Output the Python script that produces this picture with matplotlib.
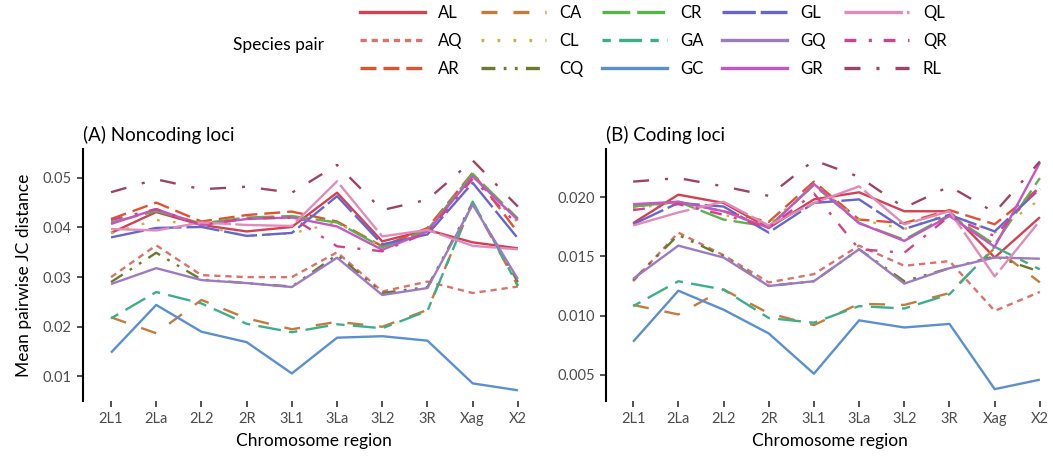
import numpy as np
import matplotlib
matplotlib.use("Agg")
import matplotlib.pyplot as plt
from matplotlib.lines import Line2D

plt.rcParams['font.family'] = ['Lato', 'DejaVu Sans']
plt.rcParams['lines.scale_dashes'] = False

regions = ["2L1", "2La", "2L2", "2R", "3L1", "3La", "3L2", "3R", "Xag", "X2"]
pairs = ["AL", "AQ", "AR", "CA", "CL", "CQ", "CR", "GA", "GC", "GL", "GQ", "GR", "QL", "QR", "RL"]

# noncoding loci
nc_AL = [0.0389, 0.0431, 0.0405, 0.0392, 0.0401, 0.0470, 0.0372, 0.0395, 0.0370, 0.0358]
nc_AQ = [0.0300, 0.0364, 0.0304, 0.0300, 0.0300, 0.0350, 0.0271, 0.0291, 0.0268, 0.0281]
nc_AR = [0.0417, 0.0450, 0.0412, 0.0425, 0.0432, 0.0412, 0.0362, 0.0399, 0.0510, 0.0390]
nc_CA = [0.0219, 0.0187, 0.0254, 0.0217, 0.0195, 0.0210, 0.0200, 0.0234, 0.0450, 0.0282]
nc_CL = [0.0388, 0.0415, 0.0404, 0.0383, 0.0388, 0.0410, 0.0360, 0.0392, 0.0505, 0.0410]
nc_CQ = [0.0290, 0.0349, 0.0295, 0.0288, 0.0281, 0.0345, 0.0268, 0.0280, 0.0450, 0.0290]
nc_CR = [0.0410, 0.0433, 0.0408, 0.0420, 0.0423, 0.0410, 0.0360, 0.0395, 0.0508, 0.0418]
nc_GA = [0.0217, 0.0270, 0.0247, 0.0206, 0.0189, 0.0205, 0.0197, 0.0232, 0.0452, 0.0283]
nc_GC = [0.0148, 0.0244, 0.0190, 0.0169, 0.0106, 0.0178, 0.0181, 0.0172, 0.0086, 0.0072]
nc_GL = [0.0380, 0.0399, 0.0401, 0.0383, 0.0389, 0.0463, 0.0366, 0.0386, 0.0490, 0.0378]
nc_GQ = [0.0286, 0.0318, 0.0294, 0.0288, 0.0280, 0.0339, 0.0264, 0.0278, 0.0446, 0.0296]
nc_GR = [0.0407, 0.0437, 0.0405, 0.0417, 0.0420, 0.0402, 0.0355, 0.0392, 0.0503, 0.0415]
nc_QL = [0.0397, 0.0394, 0.0410, 0.0405, 0.0403, 0.0493, 0.0382, 0.0395, 0.0363, 0.0356]
nc_QR = [0.0415, 0.0437, 0.0405, 0.0418, 0.0420, 0.0362, 0.0352, 0.0390, 0.0498, 0.0405]
nc_RL = [0.0471, 0.0497, 0.0477, 0.0482, 0.0470, 0.0526, 0.0435, 0.0456, 0.0535, 0.0442]

# coding loci
cd_AL = [0.0178, 0.0202, 0.0195, 0.0174, 0.0198, 0.0204, 0.0188, 0.0188, 0.0149, 0.0183]
cd_AQ = [0.0129, 0.0170, 0.0151, 0.0128, 0.0135, 0.0159, 0.0142, 0.0146, 0.0104, 0.0120]
cd_AR = [0.0192, 0.0196, 0.0188, 0.0179, 0.0213, 0.0181, 0.0178, 0.0189, 0.0177, 0.0208]
cd_CA = [0.0109, 0.0101, 0.0122, 0.0102, 0.0092, 0.0110, 0.0109, 0.0119, 0.0157, 0.0128]
cd_CL = [0.0190, 0.0196, 0.0185, 0.0177, 0.0211, 0.0181, 0.0173, 0.0186, 0.0170, 0.0198]
cd_CQ = [0.0130, 0.0168, 0.0150, 0.0125, 0.0129, 0.0156, 0.0129, 0.0140, 0.0150, 0.0137]
cd_CR = [0.0192, 0.0196, 0.0181, 0.0175, 0.0210, 0.0178, 0.0164, 0.0185, 0.0160, 0.0216]
cd_GA = [0.0108, 0.0129, 0.0122, 0.0098, 0.0094, 0.0108, 0.0106, 0.0118, 0.0158, 0.0139]
cd_GC = [0.0078, 0.0121, 0.0105, 0.0085, 0.0051, 0.0096, 0.0090, 0.0093, 0.0038, 0.0046]
cd_GL = [0.0177, 0.0195, 0.0192, 0.0170, 0.0195, 0.0198, 0.0173, 0.0185, 0.0171, 0.0207]
cd_GQ = [0.0131, 0.0159, 0.0149, 0.0125, 0.0129, 0.0156, 0.0127, 0.0140, 0.0149, 0.0148]
cd_GR = [0.0194, 0.0196, 0.0188, 0.0174, 0.0211, 0.0178, 0.0163, 0.0184, 0.0158, 0.0229]
cd_QL = [0.0176, 0.0187, 0.0196, 0.0176, 0.0195, 0.0209, 0.0177, 0.0188, 0.0133, 0.0180]
cd_QR = [0.0189, 0.0194, 0.0185, 0.0174, 0.0203, 0.0156, 0.0153, 0.0184, 0.0167, 0.0209]
cd_RL = [0.0213, 0.0216, 0.0209, 0.0201, 0.0231, 0.0217, 0.0191, 0.0209, 0.0187, 0.0230]

noncoding = [nc_AL, nc_AQ, nc_AR, nc_CA, nc_CL, nc_CQ, nc_CR, nc_GA, nc_GC, nc_GL, nc_GQ, nc_GR, nc_QL, nc_QR, nc_RL]
coding = [cd_AL, cd_AQ, cd_AR, cd_CA, cd_CL, cd_CQ, cd_CR, cd_GA, cd_GC, cd_GL, cd_GQ, cd_GR, cd_QL, cd_QR, cd_RL]

colors = ["#d43f52", "#d9736c", "#df5330", "#c27c3c", "#c9b443", "#6c7a2e", "#5cb24a", "#3fae88",
          "#5b8fd2", "#6565cf", "#9d7bc3", "#c556c6", "#e08bb9", "#d2428c", "#9c4463"]
styles = ["-", (0, (4.5, 3.5)), (0, (11.5, 5)), (0, (11.5, 11.5)), (0, (2, 9.5)),
          (0, (10, 6, 2, 6, 2, 6)), (0, (20, 5)), (0, (6, 6, 16.5, 6)), "-", (0, (24, 3.5)),
          "-", "-", (0, (42, 3)), (0, (8.5, 9, 2.2, 8.5)), (0, (11.5, 11.5, 2.2, 11.5))]
lw = 1.7
grey = "#4d4d4d"

fig = plt.figure(figsize=(10.53, 4.62), dpi=100)
axA = fig.add_axes([83 / 1053, 61 / 462, 462 / 1053, 252 / 462])
axB = fig.add_axes([606 / 1053, 61 / 462, 447 / 1053, 252 / 462])

x = np.arange(len(regions))

def draw(ax, data, title, ylim, yticks, ylabels, xlim):
    for vals, c, ls in zip(data, colors, styles):
        ax.plot(x, vals, color=c, linestyle=ls, linewidth=lw, solid_capstyle="butt", dash_capstyle="butt")
    ax.set_xlim(*xlim)
    ax.set_ylim(*ylim)
    ax.set_xticks(x)
    ax.set_xticklabels(regions, fontsize=10.5, color=grey)
    ax.set_yticks(yticks)
    ax.set_yticklabels(ylabels, fontsize=10.5, color=grey)
    for s in ["top", "right", "bottom"]:
        ax.spines[s].set_visible(False)
    ax.spines["left"].set_linewidth(1.5)
    ax.tick_params(axis="both", length=4, width=1.2, color="#333333", pad=4)
    ax.set_xlabel("Chromosome region", fontsize=12.5, labelpad=5)
    ax.set_title(title, fontsize=13.5, loc="left", pad=6)

draw(axA, noncoding, "(A) Noncoding loci", (0.00505, 0.0558),
     [0.01, 0.02, 0.03, 0.04, 0.05], ["0.01", "0.02", "0.03", "0.04", "0.05"], (-0.62, 9.6))
draw(axB, coding, "(B) Coding loci", (0.0028, 0.02405),
     [0.005, 0.010, 0.015, 0.020], ["0.005", "0.010", "0.015", "0.020"], (-0.6, 9.29))
axA.set_ylabel("Mean pairwise JC distance", fontsize=12.5, labelpad=8)

handles = [Line2D([0], [0], color=c, linestyle=ls, linewidth=2.4) for c, ls in zip(colors, styles)]
fig.legend(handles, pairs, loc="upper left", bbox_to_anchor=(360 / 1053, 1 - 5 / 462), ncol=5,
           frameon=False, fontsize=12, handlelength=3.9, handletextpad=0.8, columnspacing=1.1,
           labelspacing=0.72, borderpad=0, borderaxespad=0)
fig.text(233 / 1053, 1 - 45 / 462, "Species pair", fontsize=12.5, va="center", ha="left")

fig.savefig("out.png", dpi=100)
